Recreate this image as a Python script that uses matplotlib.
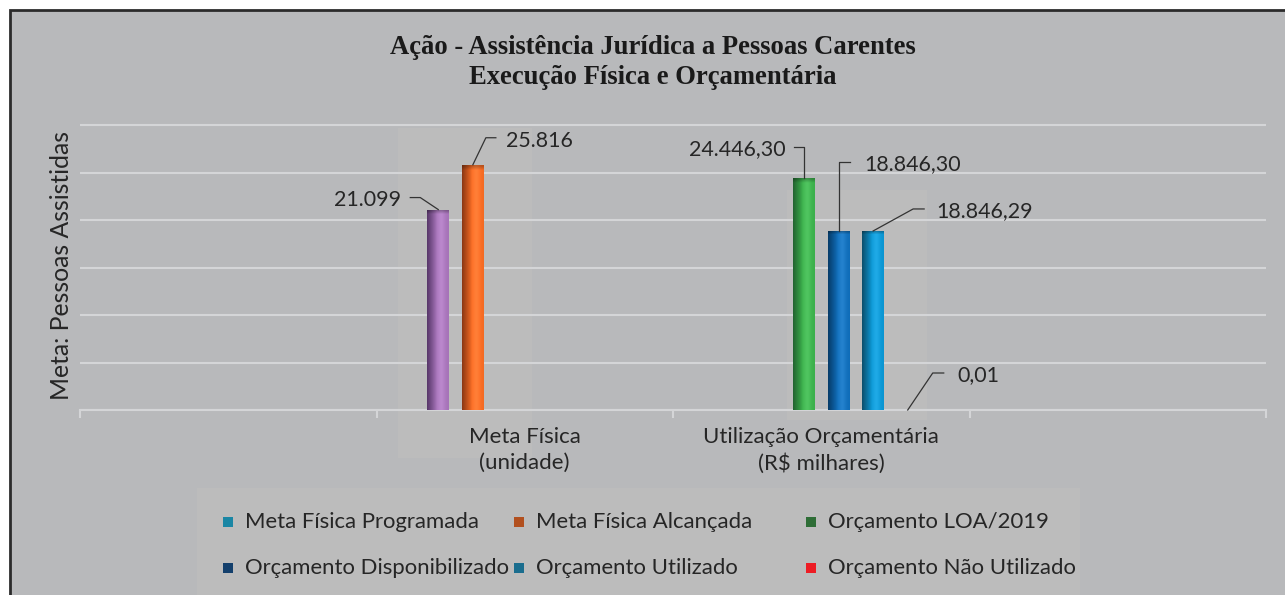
import numpy as np
import matplotlib
matplotlib.use('Agg')
import matplotlib.pyplot as plt
from matplotlib.patches import Rectangle
from matplotlib.lines import Line2D
from matplotlib.colors import to_rgb

# ---------------- data ----------------
categories = ['', 'Meta Física\n(unidade)', 'Utilização Orçamentária\n(R$ milhares)', '']
series_names = ['Meta Física Programada', 'Meta Física Alcançada', 'Orçamento LOA/2019',
                'Orçamento Disponibilizado', 'Orçamento Utilizado', 'Orçamento Não Utilizado']
meta_programada = [np.nan, 21099, np.nan, np.nan]
meta_alcancada = [np.nan, 25816, np.nan, np.nan]
orc_loa = [np.nan, np.nan, 24446.30, np.nan]
orc_disponibilizado = [np.nan, np.nan, 18846.30, np.nan]
orc_utilizado = [np.nan, np.nan, 18846.29, np.nan]
orc_nao_utilizado = [np.nan, np.nan, 0.01, np.nan]
series_values = [meta_programada, meta_alcancada, orc_loa,
                 orc_disponibilizado, orc_utilizado, orc_nao_utilizado]
value_labels = ['21.099', '25.816', '24.446,30', '18.846,30', '18.846,29', '0,01']
y_ticks = [0, 5000, 10000, 15000, 20000, 25000, 30000]

# ---------------- style ----------------
W, H = 1285, 595
BG = '#b8b9bb'
BOX = '#bcbcbc'
GRID = '#d4d5d7'
TXT = '#262626'
SANS = ['Lato', 'DejaVu Sans']
SERIF = ['Liberation Serif', 'DejaVu Serif']
bar_light = ['#a673b8', '#f46a22', '#3bb04b', '#0f6db9', '#0a95d2', '#ee1f26']
bar_dark = ['#563668', '#8a3713', '#226330', '#073c68', '#0c4e6b', '#8a1010']
legend_cols = ['#1a86a4', '#b2501f', '#2e6d36', '#133f6c', '#1a6d8e', '#ed1c24']

fig = plt.figure(figsize=(W / 100, H / 100), dpi=100, facecolor='white')

def px(x, y):
    return x / W, 1 - y / H

# frame
fig.add_artist(Rectangle(px(10, 10), (W + 20) / W, -(H + 20) / H, transform=fig.transFigure,
                         facecolor=BG, edgecolor='#2b2b2b', lw=2, zorder=-3))
# faint inner boxes
for (x0, y0, x1, y1) in [(398, 128, 532, 458), (787, 190, 927, 420), (197, 488, 1080, 600)]:
    fig.add_artist(Rectangle(px(x0, y1), (x1 - x0) / W, (y1 - y0) / H, transform=fig.transFigure,
                             facecolor=BOX, edgecolor='none', zorder=-2))

# axes placement
y_top = 31000
scale = (410 - 125) / 30000.0
ax_h = y_top * scale
ax = fig.add_axes([80 / W, (H - 410) / H, (1266 - 80) / W, ax_h / H])
ax.set_facecolor('none')
ax.set_xlim(-0.5, 3.5)
ax.set_ylim(0, y_top)

n = len(series_values)
slot = 0.7 / n
bw = 22 / 296.5
xc = np.arange(len(categories))

bars_info = []
for i, vals in enumerate(series_values):
    xs = xc + (i - (n - 1) / 2) * slot
    v = np.array(vals, dtype=float)
    ok = ~np.isnan(v)
    bc = ax.bar(xs[ok], v[ok], width=bw, color=bar_light[i], zorder=3, linewidth=0)
    for rect, xx, vv in zip(bc, xs[ok], v[ok]):
        light = np.array(to_rgb(bar_light[i]))
        dark = np.array(to_rgb(bar_dark[i]))
        t = np.linspace(0, 1, 64)
        f = np.clip(t / 0.45, 0, 1)
        col = dark[None, :] * (1 - f[:, None]) + light[None, :] * f[:, None]
        hi = np.exp(-((t - 0.65) / 0.18) ** 2) * 0.08
        col = np.clip(col + hi[:, None], 0, 1)
        img = np.tile(col[None, :, :], (60, 1, 1))
        cap = int(max(1, round(60 * min(1.0, 350 / max(vv, 1)))))
        img[:cap] = img[:cap] * 0.75
        im = ax.imshow(img, extent=[xx - bw / 2, xx + bw / 2, 0, vv], aspect='auto',
                       zorder=3.5, interpolation='bilinear', origin='upper')
        im.set_clip_path(rect)
        bars_info.append((i, xx, vv))

ax.set_xlim(-0.5, 3.5)
ax.set_ylim(0, y_top)

# grid / axes
ax.set_yticks(y_ticks)
ax.yaxis.grid(True, color=GRID, lw=1.5, zorder=1)
ax.tick_params(axis='y', length=0, labelleft=False)
for s in ['left', 'right', 'top']:
    ax.spines[s].set_visible(False)
ax.spines['bottom'].set_color(GRID)
ax.spines['bottom'].set_linewidth(1.5)
ax.spines['bottom'].set_zorder(2)
ax.set_xticks(xc, labels=categories)
ax.set_xticks(np.arange(-0.5, 4.0, 1.0), minor=True)
ax.tick_params(axis='x', which='major', length=0, pad=12, labelsize=15, labelcolor=TXT)
ax.tick_params(axis='x', which='minor', length=6, width=1.5, color=GRID, direction='out')
for lab in ax.get_xticklabels():
    lab.set_fontfamily(SANS)
    lab.set_linespacing(1.4)

# leaders: (elbow dx,dy), (end dx,dy), (text dx,dy), ha   [pixels, y up]
leaders = [((-18, 12), (-28, 12), (-37, 10), 'right'),
           ((13, 27), (23, 27), (33, 24), 'left'),
           ((0, 31), (-10, 31), (-18, 29), 'right'),
           ((0, 69), (11, 69), (26, 67), 'left'),
           ((40, 22), (51, 22), (63, 20), 'left'),
           ((25, 37), (36, 37), (50, 35), 'left')]
inv = fig.transFigure.inverted()
val_texts = []
for (i, xx, vv) in bars_info:
    (ex, ey), (nx, ny), (tx, ty), ha = leaders[i]
    p = ax.transData.transform((xx, vv))
    pts = [p, p + [ex, ey], p + [nx, ny]]
    fp = inv.transform(np.array(pts))
    fig.add_artist(Line2D(fp[:, 0], fp[:, 1], transform=fig.transFigure, color='#333333',
                          lw=0.9, zorder=5))
    tp = inv.transform(p + [tx, ty])
    val_texts.append(fig.text(tp[0], tp[1], value_labels[i], ha=ha, va='center',
                              fontsize=15, color=TXT, family=SANS, zorder=6))

# title
t1 = fig.text(653 / W, 1 - 48 / H, 'Ação - Assistência Jurídica a Pessoas Carentes', ha='center',
              va='center', fontsize=17, fontweight='bold', family=SERIF, color='#1a1a1a')
t2 = fig.text(653 / W, 1 - 78 / H, 'Execução Física e Orçamentária', ha='center',
              va='center', fontsize=17, fontweight='bold', family=SERIF, color='#1a1a1a')

# y label
yl = fig.text(62 / W, 1 - 265 / H, 'Meta: Pessoas Assistidas', rotation=90, ha='center',
              va='center', fontsize=15, family=SANS, color=TXT)

# legend (manual layout)
leg_pos = [(228, 522), (519, 522), (811, 522), (228, 568), (519, 568), (811, 568)]
leg_texts = []
for k, name in enumerate(series_names):
    mx, my = leg_pos[k]
    fig.add_artist(Rectangle(px(mx - 5, my + 5), 10 / W, 10 / H, transform=fig.transFigure,
                             facecolor=legend_cols[k], edgecolor='none', zorder=4))
    tx_, ty_ = px(mx + 17, my)
    leg_texts.append(fig.text(tx_, ty_, name, ha='left', va='center', fontsize=15,
                              family=SANS, color=TXT))

# fit text sizes to reference widths
r = fig.canvas.get_renderer()
def fit(texts, ref, target, vertical=False):
    e = ref.get_window_extent(renderer=r)
    w = e.height if vertical else e.width
    s = ref.get_fontsize() * target / w
    for t in texts:
        t.set_fontsize(s)

fit([t1, t2], t1, 527)
fit(val_texts, val_texts[2], 97)
fit(leg_texts, leg_texts[3], 265)
fit([yl], yl, 270, vertical=True)
tmp = fig.text(0, 0, 'Utilização Orçamentária', fontsize=15, family=SANS)
w = tmp.get_window_extent(renderer=r).width
tmp.remove()
ax.tick_params(axis='x', which='major', labelsize=15 * 235 / w)

fig.savefig('out.png', dpi=100, facecolor='white')
